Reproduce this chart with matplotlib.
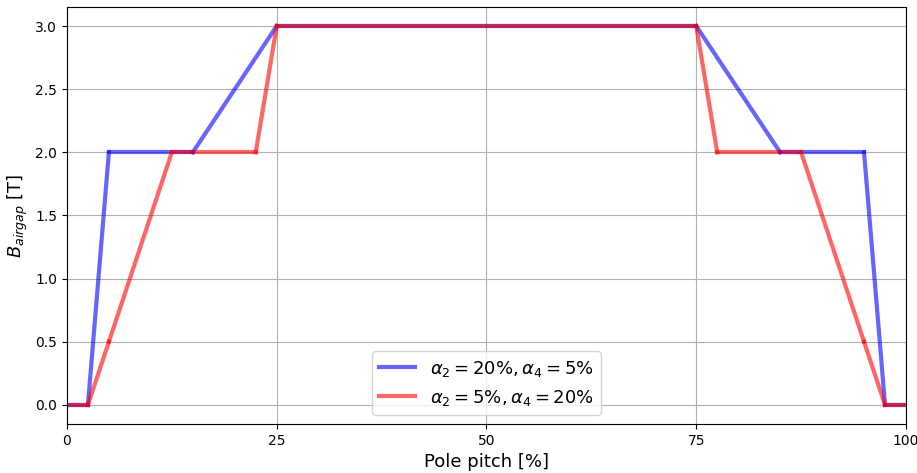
import matplotlib
matplotlib.use("Agg")
import matplotlib.pyplot as plt

# Air-gap flux density profiles over one pole pitch
blue_x = [0, 2.5, 5, 15, 25, 75, 85, 95, 97.5, 100]
blue_y = [0, 0, 2, 2, 3, 3, 2, 2, 0, 0]
red_x = [0, 2.5, 5, 12.5, 22.5, 25, 75, 77.5, 87.5, 95, 97.5, 100]
red_y = [0, 0, 0.5, 2, 2, 3, 3, 2, 2, 0.5, 0, 0]

blue_label = r"$\alpha_2 = 20\%, \alpha_4 = 5\%$"
red_label = r"$\alpha_2 = 5\%, \alpha_4 = 20\%$"

fig = plt.figure(figsize=(9.17, 4.73), dpi=100)
ax = fig.add_axes([0.073, 0.104, 0.915, 0.881])


def draw_segments(xs, ys, color, label):
    # each segment drawn on its own so the translucent joints overlap
    for i in range(len(xs) - 1):
        ax.plot(xs[i:i + 2], ys[i:i + 2], color=color, alpha=0.6, lw=3,
                label=label if i == 0 else None)


draw_segments(blue_x, blue_y, "b", blue_label)
draw_segments(red_x, red_y, "r", red_label)

ax.set_xlim(0, 100)
ax.set_ylim(-0.15, 3.15)
ax.set_xticks([0, 25, 50, 75, 100])
ax.set_yticks([0, 0.5, 1.0, 1.5, 2.0, 2.5, 3.0])
ax.grid(True)
ax.set_xlabel("Pole pitch [%]", fontsize=13)
ax.set_ylabel(r"$B_{airgap}$ [T]", fontsize=13)
ax.legend(loc="lower center", fontsize=13)

fig.savefig("out.png", dpi=100)
